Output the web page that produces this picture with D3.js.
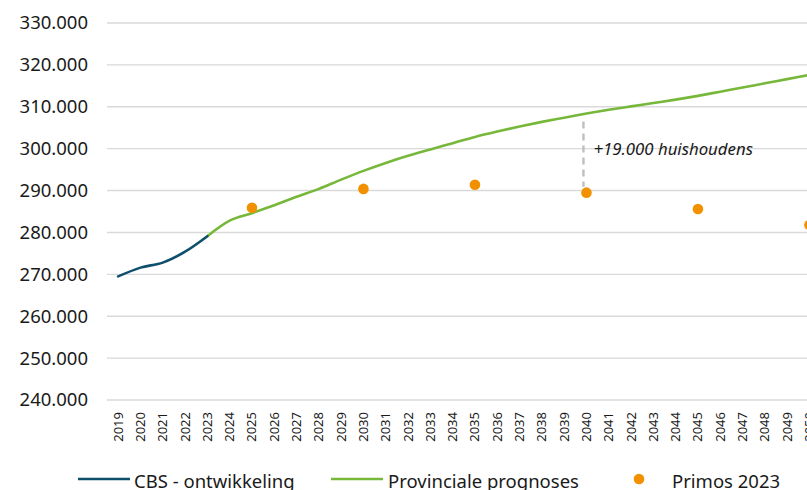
<!DOCTYPE html>
<html>
<head>
<meta charset="utf-8">
<script src="https://cdn.jsdelivr.net/npm/d3@7"></script>
<style>
  html, body { margin: 0; padding: 0; background: #fff; overflow: hidden; }
  svg { display: block; font-family: "Noto Sans", "Open Sans", sans-serif; }
</style>
</head>
<body>
<svg id="chart" width="807" height="490"></svg>
<script>
// Years on the category axis
const years = d3.range(2019, 2051).map(String);

// CBS measured development (households)
const cbsYears = ["2019", "2020", "2021", "2022", "2023"];
const cbsValues = [269500, 271600, 272800, 275400, 279100];

// Provincial forecast (households)
const provYears = d3.range(2023, 2051).map(String);
const provValues = [
  279100, 282800, 284600, 286500, 288500, 290400, 292600, 294700, 296600, 298300,
  299800, 301300, 302800, 304100, 305300, 306400, 307400, 308400, 309300, 310100,
  310900, 311700, 312600, 313600, 314600, 315600, 316600, 317600
];

// Primos 2023 forecast points
const primosYears = ["2025", "2030", "2035", "2040", "2045", "2050"];
const primosValues = [285900, 290400, 291400, 289500, 285600, 281800];

// Y axis ticks
const yTicks = [240000, 250000, 260000, 270000, 280000, 290000, 300000, 310000, 320000, 330000];

// Annotation: gap between forecast and Primos in 2040
const annoYear = "2040";
const annoLabel = "+19.000 huishoudens";

const svg = d3.select("#chart");

const x = d3.scaleBand().domain(years).range([107, 820.6]);
const cx = d => x(d) + x.bandwidth() / 2;
const y = d3.scaleLinear().domain([240000, 330000]).range([400, 23]);

const fmt = v => d3.format(",")(v).replace(/,/g, ".");

// Gridlines
svg.append("g")
  .selectAll("line")
  .data(yTicks)
  .join("line")
  .attr("x1", 107).attr("x2", 820)
  .attr("y1", d => y(d)).attr("y2", d => y(d))
  .attr("stroke", "#d9d9d9")
  .attr("stroke-width", 1.4);

// Y axis labels
const yAxis = svg.append("g")
  .attr("transform", "translate(88,0)")
  .call(d3.axisLeft(y).tickValues(yTicks).tickFormat(fmt).tickSize(0).tickPadding(0));
yAxis.select(".domain").remove();
yAxis.selectAll("text")
  .attr("font-size", 18.5)
  .attr("fill", "#1a1a1a")
  .attr("font-family", "'Noto Sans', sans-serif");

// X axis labels (rotated)
const xAxis = svg.append("g")
  .attr("transform", "translate(0,400)")
  .call(d3.axisBottom(x).tickSize(0).tickPadding(0));
xAxis.select(".domain").remove();
xAxis.selectAll("text")
  .attr("font-size", 13)
  .attr("fill", "#1a1a1a")
  .attr("font-family", "'Noto Sans', sans-serif")
  .attr("text-anchor", "end")
  .attr("dy", null)
  .attr("y", 0)
  .attr("transform", "translate(4.5,12) rotate(-90)");

const line = d3.line()
  .x(d => cx(d[0]))
  .y(d => y(d[1]))
  .curve(d3.curveMonotoneX);

// Provincial forecast line
svg.append("path")
  .datum(d3.zip(provYears, provValues))
  .attr("d", line)
  .attr("fill", "none")
  .attr("stroke", "#77b83b")
  .attr("stroke-width", 2.6)
  .attr("stroke-linejoin", "round");

// CBS line
svg.append("path")
  .datum(d3.zip(cbsYears, cbsValues))
  .attr("d", line)
  .attr("fill", "none")
  .attr("stroke", "#0e4f6e")
  .attr("stroke-width", 2.6)
  .attr("stroke-linejoin", "round")
  .attr("stroke-linecap", "round");

// Annotation dashed connector
const annoIdx = provYears.indexOf(annoYear);
const pIdx = primosYears.indexOf(annoYear);
svg.append("line")
  .attr("x1", cx(annoYear) - 3).attr("x2", cx(annoYear) - 3)
  .attr("y1", y(provValues[annoIdx]) + 8)
  .attr("y2", y(primosValues[pIdx]) - 6)
  .attr("stroke", "#bfbfbf")
  .attr("stroke-width", 2.4)
  .attr("stroke-dasharray", "7,5");

svg.append("text")
  .attr("x", cx(annoYear) + 7)
  .attr("y", (y(provValues[annoIdx]) + y(primosValues[pIdx])) / 2 + 2)
  .attr("font-size", 16.8)
  .attr("font-style", "italic")
  .attr("fill", "#1a1a1a")
  .text(annoLabel);

// Primos points
svg.append("g")
  .selectAll("circle")
  .data(d3.zip(primosYears, primosValues))
  .join("circle")
  .attr("cx", d => cx(d[0]))
  .attr("cy", d => y(d[1]))
  .attr("r", 5.3)
  .attr("fill", "#f29100");

// Legend
const legend = svg.append("g").attr("font-size", 18.5).attr("fill", "#1a1a1a");
const legendY = 479;
const items = [
  { label: "CBS - ontwikkeling", type: "line", color: "#0e4f6e", x0: 78, x1: 130, tx: 134 },
  { label: "Provinciale prognoses", type: "line", color: "#77b83b", x0: 331, x1: 383, tx: 388 },
  { label: "Primos 2023", type: "dot", color: "#f29100", x0: 639, x1: 639, tx: 672 }
];
items.forEach(it => {
  if (it.type === "line") {
    legend.append("line")
      .attr("x1", it.x0).attr("x2", it.x1)
      .attr("y1", legendY).attr("y2", legendY)
      .attr("stroke", it.color).attr("stroke-width", 2.6);
  } else {
    legend.append("circle")
      .attr("cx", it.x0).attr("cy", legendY).attr("r", 5.3).attr("fill", it.color);
  }
  legend.append("text")
    .attr("x", it.tx).attr("y", legendY + 9)
    .text(it.label);
});
</script>
</body>
</html>
